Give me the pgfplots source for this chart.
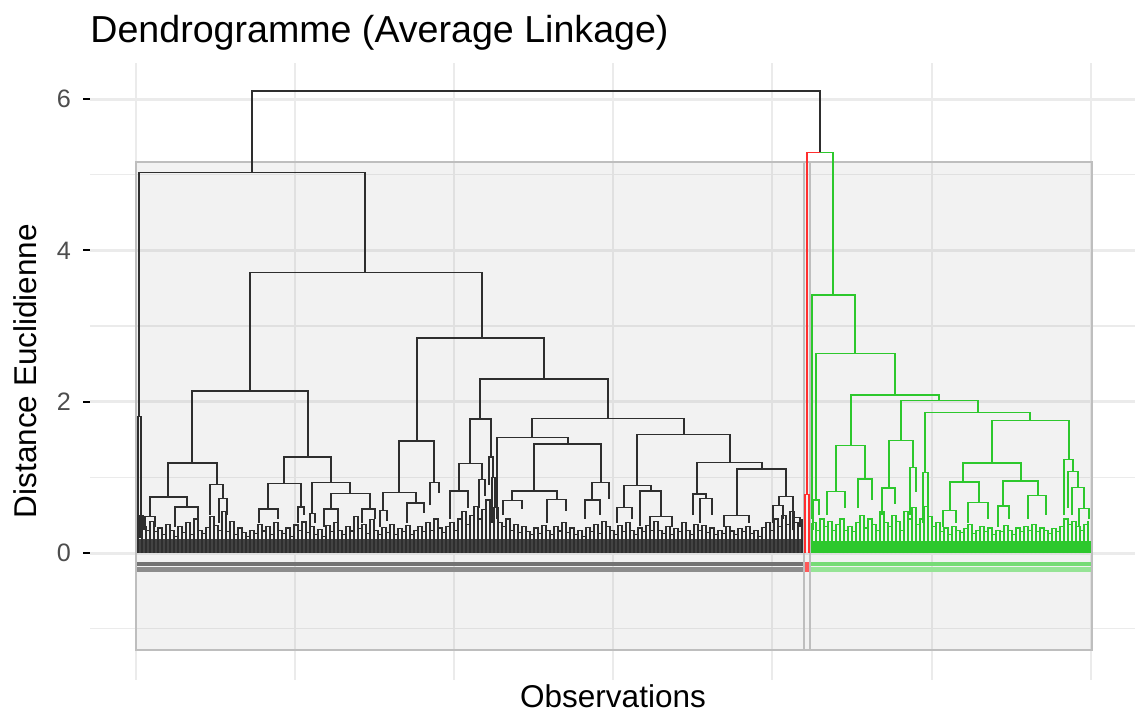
\documentclass[border=0pt]{standalone}
\usepackage{pgfplots}
\usepackage{pgfplotstable}
\pgfplotsset{compat=1.18}
\usepackage{fontspec}
\setmainfont{Liberation Sans}
\definecolor{dgray}{HTML}{2E2E2E}
\definecolor{dgreen}{HTML}{2DC82D}
\definecolor{dred}{HTML}{FF2E2E}
\definecolor{gridc}{HTML}{EBEBEB}
\definecolor{rectb}{HTML}{BEBEBE}
\definecolor{tickc}{HTML}{4D4D4D}

\pgfplotstableread{
x y
138 0.50
142 0.35
146 0.30
150 0.42
154 0.28
158 0.33
162 0.25
166 0.38
170 0.30
174 0.22
178 0.35
182 0.27
186 0.40
190 0.24
194 0.45
198 0.30
202 0.26
206 0.34
210 0.48
214 0.36
218 0.30
222 0.55
226 0.28
230 0.42
234 0.25
238 0.33
242 0.27
246 0.22
250 0.30
254 0.26
258 0.38
262 0.29
266 0.35
270 0.24
274 0.40
278 0.30
282 0.26
286 0.33
290 0.22
294 0.37
298 0.30
302 0.41
306 0.27
310 0.35
314 0.25
318 0.31
322 0.22
326 0.36
330 0.28
334 0.40
338 0.30
342 0.25
346 0.35
350 0.29
354 0.48
358 0.32
362 0.38
366 0.26
370 0.44
374 0.30
378 0.24
382 0.34
386 0.27
390 0.38
394 0.25
398 0.32
402 0.28
406 0.36
410 0.24
414 0.30
418 0.35
422 0.28
426 0.40
430 0.30
434 0.45
438 0.33
442 0.27
446 0.35
450 0.40
454 0.30
458 0.45
462 0.55
466 0.38
470 0.50
474 0.62
478 0.45
482 0.58
486 0.70
490 0.52
494 0.60
498 0.40
502 0.35
506 0.45
510 0.30
514 0.38
518 0.27
522 0.35
526 0.28
530 0.24
534 0.33
538 0.26
542 0.36
546 0.30
550 0.25
554 0.35
558 0.29
562 0.40
566 0.27
570 0.33
574 0.25
578 0.30
582 0.22
586 0.34
590 0.28
594 0.38
598 0.26
602 0.42
606 0.35
610 0.30
614 0.25
618 0.36
622 0.28
626 0.40
630 0.30
634 0.25
638 0.33
642 0.28
646 0.36
650 0.30
654 0.42
658 0.30
662 0.26
666 0.35
670 0.24
674 0.32
678 0.28
682 0.40
686 0.30
690 0.25
694 0.38
698 0.30
702 0.36
706 0.27
710 0.33
714 0.25
718 0.30
722 0.26
726 0.35
730 0.29
734 0.24
738 0.32
742 0.28
746 0.35
750 0.26
754 0.30
758 0.22
762 0.34
766 0.40
770 0.30
774 0.45
778 0.35
782 0.50
786 0.38
790 0.55
794 0.40
798 0.35
802 0.45
}\blackleaves

\pgfplotstableread{
x y
812 0.40
816 0.30
820 0.45
824 0.35
828 0.42
832 0.30
836 0.38
840 0.45
844 0.30
848 0.35
852 0.28
856 0.40
860 0.50
864 0.33
868 0.45
872 0.38
876 0.30
880 0.55
884 0.40
888 0.35
892 0.50
896 0.42
900 0.30
904 0.55
908 0.45
912 0.60
916 0.38
920 0.45
924 0.62
928 0.48
932 0.35
936 0.40
940 0.28
944 0.33
948 0.25
952 0.35
956 0.30
960 0.27
964 0.32
968 0.38
972 0.26
976 0.30
980 0.35
984 0.28
988 0.33
992 0.25
996 0.30
1000 0.28
1004 0.36
1008 0.30
1012 0.25
1016 0.33
1020 0.28
1024 0.35
1028 0.30
1032 0.38
1036 0.28
1040 0.33
1044 0.30
1048 0.26
1052 0.32
1056 0.28
1060 0.35
1064 0.45
1068 0.38
1072 0.42
1076 0.35
1080 0.30
1084 0.38
1088 0.42
}\greenleaves

\pgfplotstableread{
x y
252 5.03
252 6.105
820 6.105
820 5.29
nan nan
139 1.80
139 5.03
365 5.03
365 3.71
nan nan
138 0.15
138 1.80
141 1.80
141 0.50
nan nan
140 0.2
140 0.50
143 0.50
143 0.3
nan nan
250 2.14
250 3.71
482 3.71
482 2.84
nan nan
192 1.19
192 2.14
308 2.14
308 1.27
nan nan
168 0.74
168 1.19
217 1.19
217 0.91
nan nan
150 0.48
150 0.74
187 0.74
187 0.61
nan nan
145 0.30
145 0.48
155 0.48
155 0.35
nan nan
175 0.35
175 0.61
198 0.61
198 0.45
nan nan
210 0.50
210 0.91
223 0.91
223 0.72
nan nan
219 0.4
219 0.72
227 0.72
227 0.5
nan nan
284 0.92
284 1.27
331 1.27
331 0.93
nan nan
268 0.58
268 0.92
301 0.92
301 0.61
nan nan
259 0.40
259 0.58
278 0.58
278 0.45
nan nan
298 0.40
298 0.61
304 0.61
304 0.50
nan nan
312 0.52
312 0.93
350 0.93
350 0.79
nan nan
310 0.30
310 0.52
315 0.52
315 0.40
nan nan
331 0.58
331 0.79
370 0.79
370 0.58
nan nan
324 0.35
324 0.58
338 0.58
338 0.40
nan nan
362 0.40
362 0.58
375 0.58
375 0.45
nan nan
417 1.48
417 2.84
544 2.84
544 2.30
nan nan
399 0.80
399 1.48
434 1.48
434 0.93
nan nan
383 0.56
383 0.80
416 0.80
416 0.66
nan nan
380 0.35
380 0.56
387 0.56
387 0.42
nan nan
407 0.40
407 0.66
424 0.66
424 0.53
nan nan
430 0.63
430 0.93
439 0.93
439 0.79
nan nan
480 1.77
480 2.30
608 2.30
608 1.78
nan nan
470 1.18
470 1.77
491 1.77
491 1.27
nan nan
459 0.82
459 1.18
482 1.18
482 0.97
nan nan
450 0.45
450 0.82
468 0.82
468 0.60
nan nan
479 0.60
479 0.97
485 0.97
485 0.75
nan nan
489 0.90
489 1.27
493 1.27
493 1.00
nan nan
492 0.40
492 1.00
495 1.00
495 0.60
nan nan
532 1.53
532 1.78
684 1.78
684 1.57
nan nan
497 0.45
497 1.53
568 1.53
568 1.44
nan nan
534 0.82
534 1.44
601 1.44
601 0.93
nan nan
512 0.69
512 0.82
557 0.82
557 0.71
nan nan
503 0.50
503 0.69
522 0.69
522 0.58
nan nan
547 0.40
547 0.71
566 0.71
566 0.55
nan nan
592 0.70
592 0.93
609 0.93
609 0.72
nan nan
585 0.45
585 0.70
600 0.70
600 0.50
nan nan
637 0.89
637 1.57
730 1.57
730 1.20
nan nan
624 0.60
624 0.89
651 0.89
651 0.82
nan nan
617 0.40
617 0.60
632 0.60
632 0.45
nan nan
640 0.36
640 0.82
661 0.82
661 0.48
nan nan
650 0.30
650 0.48
672 0.48
672 0.35
nan nan
697 0.78
697 1.20
762 1.20
762 1.11
nan nan
693 0.50
693 0.78
706 0.78
706 0.72
nan nan
700 0.40
700 0.72
712 0.72
712 0.50
nan nan
737 0.50
737 1.11
786 1.11
786 0.75
nan nan
724 0.35
724 0.50
749 0.50
749 0.40
nan nan
779 0.63
779 0.75
793 0.75
793 0.47
nan nan
773 0.40
773 0.63
783 0.63
783 0.45
nan nan
793 0.30
793 0.47
800 0.47
800 0.35
}\blacktree

\pgfplotstableread{
x y
812 0.45
812 3.41
855 3.41
855 2.64
nan nan
816 0.70
816 2.64
895 2.64
895 2.09
nan nan
813 0.30
813 0.70
819 0.70
819 0.50
nan nan
851 1.42
851 2.09
939 2.09
939 2.02
nan nan
836 0.81
836 1.42
865 1.42
865 0.98
nan nan
827 0.50
827 0.81
845 0.81
845 0.60
nan nan
858 0.60
858 0.98
872 0.98
872 0.70
nan nan
901 1.49
901 2.02
978 2.02
978 1.86
nan nan
889 0.86
889 1.49
913 1.49
913 1.13
nan nan
882 0.50
882 0.86
895 0.86
895 0.65
nan nan
910 0.50
910 1.13
916 1.13
916 0.80
nan nan
925 1.06
925 1.86
1030 1.86
1030 1.75
nan nan
923 0.40
923 1.06
928 1.06
928 0.60
nan nan
992 1.19
992 1.75
1069 1.75
1069 1.24
nan nan
963 0.94
963 1.19
1021 1.19
1021 0.95
nan nan
950 0.56
950 0.94
979 0.94
979 0.67
nan nan
943 0.35
943 0.56
956 0.56
956 0.40
nan nan
968 0.40
968 0.67
988 0.67
988 0.45
nan nan
1003 0.62
1003 0.95
1038 0.95
1038 0.76
nan nan
998 0.35
998 0.62
1009 0.62
1009 0.45
nan nan
1028 0.45
1028 0.76
1046 0.76
1046 0.50
nan nan
1064 0.50
1064 1.24
1073 1.24
1073 1.08
nan nan
1068 0.60
1068 1.08
1078 1.08
1078 0.87
nan nan
1072 0.50
1072 0.87
1084 0.87
1084 0.59
nan nan
1079 0.35
1079 0.59
1089 0.59
1089 0.45
}\greentree

\begin{document}
\begin{tikzpicture}[x=1pt,y=1pt]
\path[use as bounding box] (0,0) rectangle (567.5,358.5);
\begin{axis}[
  at={(45pt,18.5pt)}, anchor=south west,
  scale only axis, width=522.5pt, height=308.5pt,
  xmin=90, xmax=1135, ymin=-1.678, ymax=6.476,
  axis line style={draw=none},
  xtick=\empty,
  ytick={0,2,4,6},
  tick pos=left,
  tick align=outside,
  major tick length=3.5pt,
  every tick/.style={black, line width=1.1pt},
  yticklabel style={font=\fontsize{12.6}{14}\selectfont, text=tickc, xshift=-2.5pt},
  /pgf/number format/assume math mode=true,
  unbounded coords=jump,
]
% grid
\addplot[gridc, line width=1.5pt] coordinates {(90,0) (1135,0) (nan,nan) (90,2) (1135,2) (nan,nan) (90,4) (1135,4) (nan,nan) (90,6) (1135,6)};
\addplot[gridc, line width=0.8pt] coordinates {(90,-1) (1135,-1) (nan,nan) (90,1) (1135,1) (nan,nan) (90,3) (1135,3) (nan,nan) (90,5) (1135,5)};
\addplot[gridc, line width=1.1pt] coordinates {(136,-1.678) (136,6.476) (nan,nan) (295,-1.678) (295,6.476) (nan,nan) (454,-1.678) (454,6.476) (nan,nan) (613,-1.678) (613,6.476) (nan,nan) (772,-1.678) (772,6.476) (nan,nan) (932,-1.678) (932,6.476) (nan,nan) (1091,-1.678) (1091,6.476)};
% cluster rectangles
\addplot[fill=gray, fill opacity=0.1, draw=rectb, line width=1pt] coordinates {(136,-1.28) (804,-1.28) (804,5.17) (136,5.17)} -- cycle;
\addplot[fill=gray, fill opacity=0.1, draw=rectb, line width=1pt] coordinates {(804,-1.28) (810,-1.28) (810,5.17) (804,5.17)} -- cycle;
\addplot[fill=gray, fill opacity=0.1, draw=rectb, line width=1pt] coordinates {(810,-1.28) (1092,-1.28) (1092,5.17) (810,5.17)} -- cycle;
% leaf label bands
\addplot[fill=black!55, draw=none] coordinates {(137,-0.115) (803,-0.115) (803,-0.165) (137,-0.165)} -- cycle;
\addplot[fill=black!45, draw=none] coordinates {(137,-0.185) (803,-0.185) (803,-0.245) (137,-0.245)} -- cycle;
\addplot[fill=dgreen!65, draw=none] coordinates {(811,-0.115) (1091,-0.115) (1091,-0.165) (811,-0.165)} -- cycle;
\addplot[fill=dgreen!50, draw=none] coordinates {(811,-0.185) (1091,-0.185) (1091,-0.245) (811,-0.245)} -- cycle;
\addplot[fill=dred!80, draw=none] coordinates {(805,-0.115) (809,-0.115) (809,-0.245) (805,-0.245)} -- cycle;
% dense leaf level
\addplot[fill=dgray!90, draw=none] coordinates {(137,0) (803,0) (803,0.18) (137,0.18)} -- cycle;
\addplot[fill=dgreen, draw=none] coordinates {(811,0) (1091,0) (1091,0.16) (811,0.16)} -- cycle;
\addplot[ycomb, dgray, line width=0.6pt, mark=none] table {\blackleaves};
\addplot[const plot, dgray, line width=0.6pt, mark=none] table {\blackleaves};
\addplot[ycomb, dgreen, line width=0.6pt, mark=none] table {\greenleaves};
\addplot[const plot, dgreen, line width=0.6pt, mark=none] table {\greenleaves};
% tree
\addplot[dgray, line width=0.65pt, mark=none] table {\blacktree};
\addplot[dgreen, line width=0.65pt, mark=none] table {\greentree};
\addplot[dgreen, line width=0.65pt, mark=none] coordinates {(820,5.29) (833,5.29) (833,3.41)};
\addplot[dred, line width=0.65pt, mark=none] coordinates {(807,0.77) (807,5.29) (820,5.29) (nan,nan) (805,0.0) (805,0.77) (809,0.77) (809,0.0)};
\end{axis}
\node[anchor=base west, inner sep=0pt, font=\fontsize{18.8}{22}\selectfont] at (45,337) {Dendrogramme (Average Linkage)};
\node[rotate=90, font=\fontsize{15.75}{18}\selectfont] at (12.5,173) {Distance Euclidienne};
\node[anchor=base, font=\fontsize{15.75}{18}\selectfont] at (306.5,4.5) {Observations};
\end{tikzpicture}
\end{document}
